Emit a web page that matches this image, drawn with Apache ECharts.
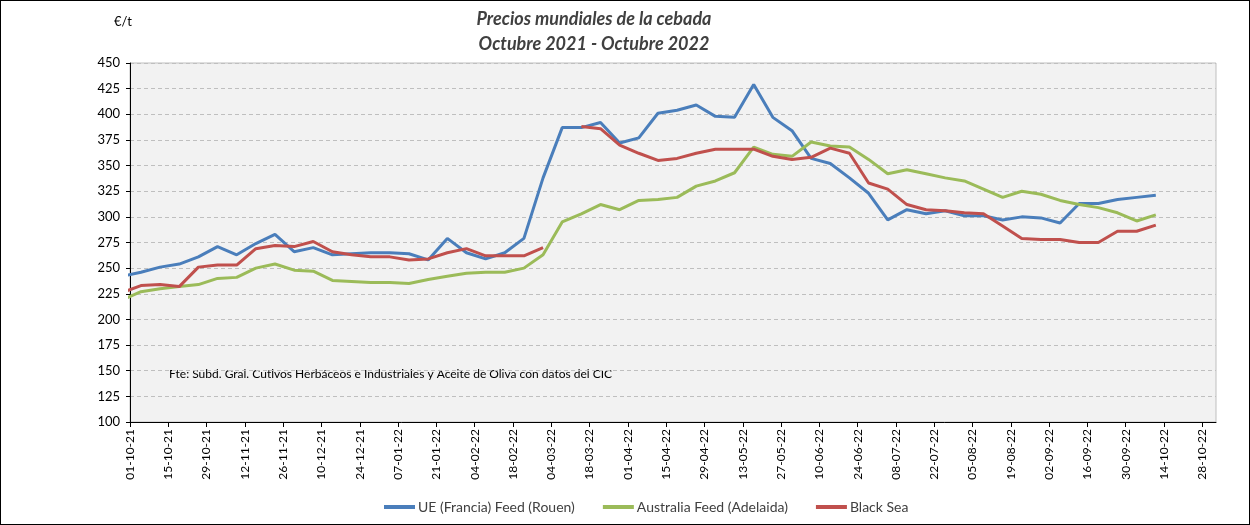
<!DOCTYPE html>
<html>
<head>
<meta charset="utf-8">
<title>Precios mundiales de la cebada</title>
<script src="https://cdn.jsdelivr.net/npm/echarts@6.0.0/dist/echarts.min.js"></script>
<style>
  html, body { margin: 0; padding: 0; background: #fff; }
  #chart { width: 1250px; height: 525px; box-sizing: border-box; border: 1px solid #000; }
</style>
</head>
<body>
<div id="chart"></div>
<script>
// fechas semanales (martes)
var fechas = [
  '2021-09-28', '2021-10-05', '2021-10-12', '2021-10-19', '2021-10-26',
  '2021-11-02', '2021-11-09', '2021-11-16', '2021-11-23', '2021-11-30',
  '2021-12-07', '2021-12-14', '2021-12-21', '2021-12-28',
  '2022-01-04', '2022-01-11', '2022-01-18', '2022-01-25',
  '2022-02-01', '2022-02-08', '2022-02-15', '2022-02-22',
  '2022-03-01', '2022-03-08', '2022-03-15', '2022-03-22', '2022-03-29',
  '2022-04-05', '2022-04-12', '2022-04-19', '2022-04-26',
  '2022-05-03', '2022-05-10', '2022-05-17', '2022-05-24', '2022-05-31',
  '2022-06-07', '2022-06-14', '2022-06-21', '2022-06-28',
  '2022-07-05', '2022-07-12', '2022-07-19', '2022-07-26',
  '2022-08-02', '2022-08-09', '2022-08-16', '2022-08-23', '2022-08-30',
  '2022-09-06', '2022-09-13', '2022-09-20', '2022-09-27',
  '2022-10-04', '2022-10-11'
];

var ueFrancia = [
  242, 246, 251, 254, 261, 271, 263, 274, 283, 266, 270, 263, 264, 265,
  265, 264, 258, 279, 265, 259, 265, 279, 338, 387, 387, 392, 372,
  377, 401, 404, 409, 398, 397, 429, 397, 384, 357, 352, 338, 323,
  297, 307, 303, 306, 301, 301, 297, 300, 299, 294, 313, 313, 317,
  319, 321
];

var australia = [
  219, 227, 230, 232, 234, 240, 241, 250, 254, 248, 247, 238, 237, 236,
  236, 235, 239, 242, 245, 246, 246, 250, 263, 295, 303, 312, 307,
  316, 317, 319, 330, 335, 343, 368, 361, 359, 373, 369, 368, 356,
  342, 346, 342, 338, 335, 327, 319, 325, 322, 316, 312, 309, 304,
  296, 302
];

var blackSea = [
  226, 233, 234, 232, 251, 253, 253, 269, 272, 271, 276, 266, 263, 261,
  261, 258, 259, 265, 269, 262, 262, 262, 270, null, 388, 386, 370,
  362, 355, 357, 362, 366, 366, 366, 359, 356, 358, 367, 362, 333,
  327, 312, 307, 306, 304, 303, 291, 279, 278, 278, 275, 275, 286,
  286, 292
];

var etiquetasX = [
  '01-10-21', '15-10-21', '29-10-21', '12-11-21', '26-11-21', '10-12-21',
  '24-12-21', '07-01-22', '21-01-22', '04-02-22', '18-02-22', '04-03-22',
  '18-03-22', '01-04-22', '15-04-22', '29-04-22', '13-05-22', '27-05-22',
  '10-06-22', '24-06-22', '08-07-22', '22-07-22', '05-08-22', '19-08-22',
  '02-09-22', '16-09-22', '30-09-22', '14-10-22', '28-10-22'
];

var nombres = ['UE (Francia) Feed (Rouen)', 'Australia Feed (Adelaida)', 'Black Sea'];
var colores = ['#4a7ebb', '#9bbb59', '#c0504d'];

var DIA = 86400000;
var inicio = Date.UTC(2021, 9, 1);
function diaDe(iso) {
  var p = iso.split('-');
  return Math.round((Date.UTC(+p[0], +p[1] - 1, +p[2]) - inicio) / DIA);
}
function diaEtiqueta(s) {
  var p = s.split('-');
  return Math.round((Date.UTC(2000 + +p[2], +p[1] - 1, +p[0]) - inicio) / DIA);
}
var dias = fechas.map(diaDe);
var diasTick = etiquetasX.map(diaEtiqueta);

function pares(valores) {
  return valores.map(function (v, i) { return [dias[i], v]; });
}

var fuente = 'Lato, "Noto Sans", sans-serif';

var chart = echarts.init(document.getElementById('chart'));
chart.setOption({
  animation: false,
  textStyle: { fontFamily: fuente },
  grid: {
    left: 129, right: 33, top: 62, bottom: 102,
    show: true, backgroundColor: '#f2f2f2', borderColor: '#bfbfbf', borderWidth: 1
  },
  graphic: [
    { type: 'text', x: 593, y: 18, style: { text: 'Precios mundiales de la cebada', textAlign: 'center', textVerticalAlign: 'middle', font: 'italic bold 18px ' + fuente, fill: '#404040' } },
    { type: 'text', x: 593, y: 43, style: { text: 'Octubre 2021 - Octubre 2022', textAlign: 'center', textVerticalAlign: 'middle', font: 'italic bold 18px ' + fuente, fill: '#404040' } },
    { type: 'text', x: 122, y: 21, style: { text: '€/t', textAlign: 'center', textVerticalAlign: 'middle', font: '13px ' + fuente, fill: '#000' } },
    { type: 'text', x: 168, y: 373, style: { text: 'Fte: Subd. Gral. Cutlvos Herbáceos e Industriales y Aceite de Oliva con datos del CIC', textAlign: 'left', textVerticalAlign: 'middle', font: '12px ' + fuente, fill: '#000' } }
  ],
  legend: {
    left: 378, top: 494,
    itemWidth: 31, itemHeight: 4, itemGap: 28,
    icon: 'rect',
    textStyle: { fontSize: 14, color: '#404040', fontFamily: fuente, padding: [0, 0, 0, -2] },
    data: nombres
  },
  xAxis: {
    type: 'value', min: 0, max: 397, interval: 14,
    axisLine: { show: true, onZero: false, lineStyle: { color: '#000', width: 1 } },
    axisTick: { show: true, length: 5, lineStyle: { color: '#000' }, customValues: diasTick },
    axisLabel: {
      rotate: 90, fontSize: 12, color: '#000', margin: 7,
      customValues: diasTick,
      formatter: function (v) {
        var i = diasTick.indexOf(Math.round(v));
        return i >= 0 ? etiquetasX[i] : '';
      }
    },
    splitLine: { show: false }
  },
  yAxis: {
    type: 'value', min: 100, max: 450, interval: 25,
    axisLine: { show: true, lineStyle: { color: '#000', width: 1 } },
    axisTick: { show: true, length: 4, lineStyle: { color: '#000' } },
    axisLabel: { fontSize: 13, color: '#000', margin: 10 },
    splitLine: { show: true, lineStyle: { color: '#bfbfbf', type: [4, 3], width: 1 } }
  },
  series: [
    { name: nombres[0], type: 'line', data: pares(ueFrancia), symbol: 'none', clip: true, lineStyle: { width: 3, color: colores[0] }, itemStyle: { color: colores[0] } },
    { name: nombres[1], type: 'line', data: pares(australia), symbol: 'none', clip: true, lineStyle: { width: 3, color: colores[1] }, itemStyle: { color: colores[1] } },
    { name: nombres[2], type: 'line', data: pares(blackSea), symbol: 'none', clip: true, connectNulls: false, lineStyle: { width: 3, color: colores[2] }, itemStyle: { color: colores[2] } }
  ]
});
</script>
</body>
</html>
